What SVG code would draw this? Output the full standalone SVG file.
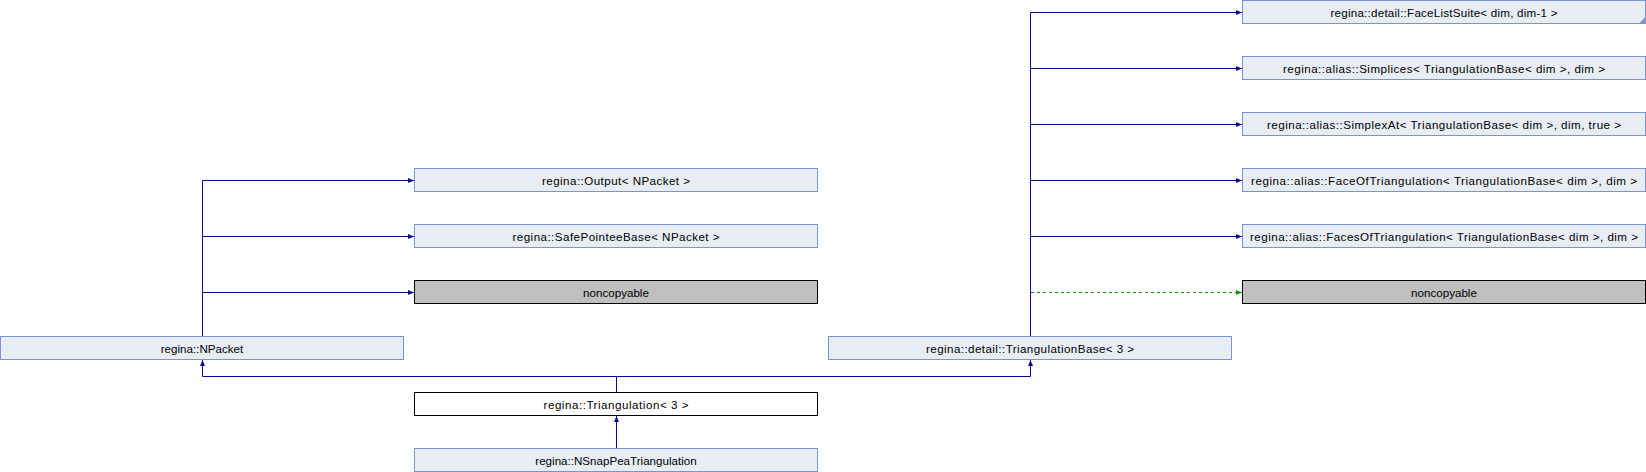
<svg xmlns="http://www.w3.org/2000/svg" width="1646" height="472" viewBox="0 0 1646 472">
<style>
.n rect{fill:#E8ECF5;stroke:#7C93CE;stroke-width:1}
.g rect{fill:#BFBFBF;stroke:#000;stroke-width:1}
.w rect{fill:#FFFFFF;stroke:#000;stroke-width:1}
text{font-family:"Liberation Sans",Arial,sans-serif;font-size:11.6px;fill:#000;text-anchor:middle}
.e{fill:none;stroke:#0A0A99;stroke-width:1}
.p{fill:none;stroke:#0A9A0A;stroke-width:1;stroke-dasharray:3,3}
</style>
<defs>
<marker id="ab" markerUnits="userSpaceOnUse" markerWidth="8" markerHeight="8" refX="6" refY="3" orient="auto">
<path d="M0,0.5 L6,3 L0,5.5 Z" fill="#0A0A99"/>
</marker>
<marker id="ag" markerUnits="userSpaceOnUse" markerWidth="8" markerHeight="8" refX="6" refY="3" orient="auto">
<path d="M0,0.5 L6,3 L0,5.5 Z" fill="#0A9A0A"/>
</marker>
</defs>
<rect width="1646" height="472" fill="#fff"/>
<g id="connectors">
<path class="e" d="M202.5,336 V180.5"/>
<path class="e" d="M202.5,180.5 H414" marker-end="url(#ab)"/>
<path class="e" d="M202.5,236.5 H414" marker-end="url(#ab)"/>
<path class="e" d="M202.5,292.5 H414" marker-end="url(#ab)"/>
<path class="e" d="M1030.5,336 V12.5"/>
<path class="e" d="M1030.5,12.5 H1242" marker-end="url(#ab)"/>
<path class="e" d="M1030.5,68.5 H1242" marker-end="url(#ab)"/>
<path class="e" d="M1030.5,124.5 H1242" marker-end="url(#ab)"/>
<path class="e" d="M1030.5,180.5 H1242" marker-end="url(#ab)"/>
<path class="e" d="M1030.5,236.5 H1242" marker-end="url(#ab)"/>
<path class="p" d="M1031,292.5 H1242" marker-end="url(#ag)"/>
<path class="e" d="M616.5,392 V376.5 H202.5 V360" marker-end="url(#ab)"/>
<path class="e" d="M616.5,376.5 H1030.5 V360" marker-end="url(#ab)"/>
<path class="e" d="M616.5,448 V416" marker-end="url(#ab)"/>
</g>
<g id="output" class="n"><rect x="414.5" y="168.5" width="403" height="23"/><text x="616" y="184.5" textLength="148" lengthAdjust="spacing">regina::Output&lt; NPacket &gt;</text></g>
<g id="safepointee" class="n"><rect x="414.5" y="224.5" width="403" height="23"/><text x="616" y="240.5" textLength="207" lengthAdjust="spacing">regina::SafePointeeBase&lt; NPacket &gt;</text></g>
<g id="noncopyable1" class="g"><rect x="414.5" y="280.5" width="403" height="23"/><text x="616" y="296.5">noncopyable</text></g>
<g id="npacket" class="n"><rect x="0.5" y="336.5" width="403" height="23"/><text x="202" y="352.5">regina::NPacket</text></g>
<g id="triangulation" class="w"><rect x="414.5" y="392.5" width="403" height="23"/><text x="616" y="408.5" textLength="145" lengthAdjust="spacing">regina::Triangulation&lt; 3 &gt;</text></g>
<g id="nsnappea" class="n"><rect x="414.5" y="448.5" width="403" height="23"/><text x="616" y="464.5">regina::NSnapPeaTriangulation</text></g>
<g id="triangulationbase" class="n"><rect x="828.5" y="336.5" width="403" height="23"/><text x="1030" y="352.5" textLength="208" lengthAdjust="spacing">regina::detail::TriangulationBase&lt; 3 &gt;</text></g>
<g id="facelistsuite" class="n"><rect x="1242.5" y="0.5" width="403" height="23"/><polygon points="1645.5,17 1645.5,23.5 1639,23.5" fill="#7C93CE"/><text x="1444" y="16.5" textLength="227" lengthAdjust="spacing">regina::detail::FaceListSuite&lt; dim, dim-1 &gt;</text></g>
<g id="simplices" class="n"><rect x="1242.5" y="56.5" width="403" height="23"/><text x="1444" y="72.5" textLength="322" lengthAdjust="spacing">regina::alias::Simplices&lt; TriangulationBase&lt; dim &gt;, dim &gt;</text></g>
<g id="simplexat" class="n"><rect x="1242.5" y="112.5" width="403" height="23"/><text x="1444" y="128.5" textLength="354" lengthAdjust="spacing">regina::alias::SimplexAt&lt; TriangulationBase&lt; dim &gt;, dim, true &gt;</text></g>
<g id="faceoftriangulation" class="n"><rect x="1242.5" y="168.5" width="403" height="23"/><text x="1444" y="184.5" textLength="386" lengthAdjust="spacing">regina::alias::FaceOfTriangulation&lt; TriangulationBase&lt; dim &gt;, dim &gt;</text></g>
<g id="facesoftriangulation" class="n"><rect x="1242.5" y="224.5" width="403" height="23"/><text x="1444" y="240.5" textLength="388" lengthAdjust="spacing">regina::alias::FacesOfTriangulation&lt; TriangulationBase&lt; dim &gt;, dim &gt;</text></g>
<g id="noncopyable2" class="g"><rect x="1242.5" y="280.5" width="403" height="23"/><text x="1444" y="296.5">noncopyable</text></g>
</svg>
